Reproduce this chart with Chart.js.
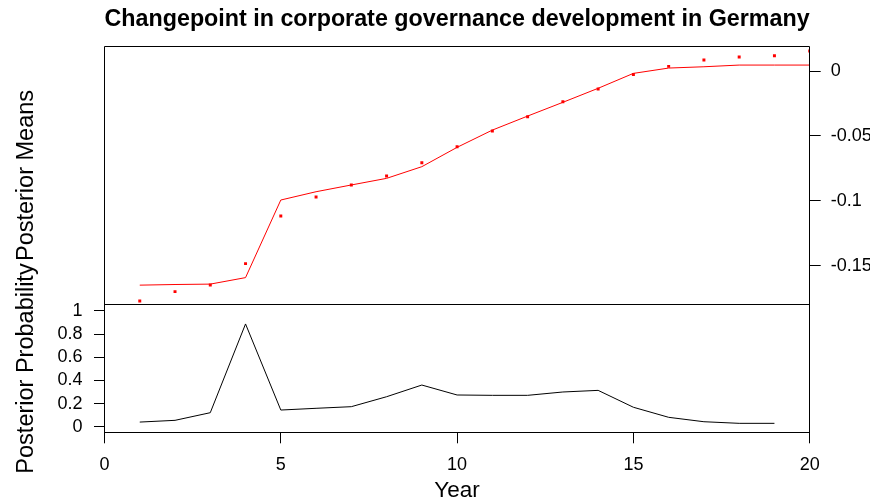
<!DOCTYPE html>
<html>
<head>
<meta charset="utf-8">
<script src="https://cdn.jsdelivr.net/npm/chart.js@4.4.0/dist/chart.umd.min.js"></script>
<style>
html,body{margin:0;padding:0;background:#ffffff;}
canvas{display:block;}
</style>
</head>
<body>
<canvas id="c" width="870" height="504"></canvas>
<script>
// ---- data ----
const years = [1,2,3,4,5,6,7,8,9,10,11,12,13,14,15,16,17,18,19,20];
const observed = [-0.1772,-0.1700,-0.1649,-0.1484,-0.1117,-0.0971,-0.0878,-0.0809,-0.0706,-0.0583,
                  -0.0462,-0.0352,-0.0236,-0.0139,-0.0026,0.0036,0.0085,0.0108,0.0118,0.0154];
const posteriorMeans = [-0.1650,-0.1645,-0.1642,-0.1592,-0.0994,-0.0930,-0.0878,-0.0827,-0.0737,-0.0588,
                        -0.0455,-0.0347,-0.0241,-0.0133,-0.0018,0.0023,0.0033,0.0046,0.0046,0.0046];
const probYears = [1,2,3,4,5,6,7,8,9,10,11,12,13,14,15,16,17,18,19];
const posteriorProb = [0.040,0.055,0.121,0.888,0.144,0.159,0.173,0.259,0.360,0.274,
                       0.271,0.271,0.300,0.314,0.168,0.081,0.043,0.029,0.029];
const xTicks = [0,5,10,15,20];
const xTickLabels = ['0','5','10','15','20'];
const topTicks = [-0.15,-0.1,-0.05,0];
const topTickLabels = ['-0.15','-0.1','-0.05','0'];
const botTicks = [0,0.2,0.4,0.6,0.8,1];
const botTickLabels = ['0','0.2','0.4','0.6','0.8','1'];
const titleText = 'Changepoint in corporate governance development in Germany';
const xTitle = 'Year';
const topPanelLabel = 'Posterior Means';
const botPanelLabel = 'Posterior Probability';

// ---- layout constants ----
const FONT = "'Liberation Sans', Arial, Helvetica, sans-serif";
const TOP_RANGE = {min: -0.2784, max: 0.0193};
const BOT_RANGE = {min: -0.0484, max: 3.290};
const BOT_PANEL_TOP = 1.054;   // value on bottom scale where the bottom panel begins

const pts = (xs, ys) => xs.map((x, i) => ({x: x, y: ys[i]}));
const fixTicks = (vals) => (scale) => { scale.ticks = vals.map(v => ({value: v})); };

const panelPlugin = {
  id: 'panels',
  afterDraw(chart) {
    const {ctx, chartArea: a} = chart;
    const L = Math.floor(a.left) + 0.5, R = Math.floor(a.right) + 0.5;
    const T = Math.floor(a.top) + 0.5, B = Math.floor(a.bottom) + 0.5;
    const S = Math.floor(chart.scales.yBot.getPixelForValue(BOT_PANEL_TOP)) + 0.5;
    ctx.save();
    ctx.strokeStyle = '#000000';
    ctx.lineWidth = 1;
    ctx.beginPath();
    ctx.rect(L, T, R - L, B - T);
    ctx.moveTo(L, S); ctx.lineTo(R, S);
    ctx.stroke();
    // panel labels (each centred on its own panel)
    ctx.fillStyle = '#000000';
    ctx.font = '23.5px ' + FONT;
    ctx.textAlign = 'center';
    ctx.textBaseline = 'alphabetic';
    const drawV = (txt, cy) => {
      ctx.save();
      ctx.translate(32.5, cy);
      ctx.rotate(-Math.PI / 2);
      ctx.fillText(txt, 0, 0);
      ctx.restore();
    };
    drawV(topPanelLabel, (T + S) / 2);
    drawV(botPanelLabel, (S + B) / 2);
    ctx.restore();
  }
};

new Chart(document.getElementById('c'), {
  type: 'line',
  data: {
    datasets: [
      {
        label: 'Observed', data: pts(years, observed), yAxisID: 'yTop',
        showLine: false, pointStyle: 'rect', pointRadius: 2.1, pointBorderWidth: 0,
        pointBackgroundColor: '#ff0000', borderColor: '#ff0000'
      },
      {
        label: 'Posterior Means', data: pts(years, posteriorMeans), yAxisID: 'yTop',
        borderColor: '#ff0000', borderWidth: 1, pointRadius: 0, tension: 0, fill: false
      },
      {
        label: 'Posterior Probability', data: pts(probYears, posteriorProb), yAxisID: 'yBot',
        borderColor: '#000000', borderWidth: 1, pointRadius: 0, tension: 0, fill: false
      }
    ]
  },
  options: {
    responsive: false,
    animation: false,
    devicePixelRatio: 1,
    layout: {padding: 0},
    plugins: {
      legend: {display: false},
      tooltip: {enabled: false},
      title: {
        display: true, text: titleText, fullSize: false, color: '#000000',
        font: {family: FONT, size: 24, weight: 'bold', lineHeight: 1.2},
        padding: {top: 5, bottom: 12.2}
      }
    },
    scales: {
      x: {
        type: 'linear', position: 'bottom', min: 0, max: 20,
        afterBuildTicks: fixTicks(xTicks),
        afterFit: (s) => { s.height = 71.7; },
        border: {display: false},
        grid: {drawOnChartArea: false, drawTicks: true, tickLength: 11, color: '#000000'},
        ticks: {
          color: '#000000', font: {family: FONT, size: 18}, padding: 11,
          maxRotation: 0, autoSkip: false,
          callback: (v, i) => xTickLabels[i]
        },
        title: {
          display: true, text: xTitle, color: '#000000',
          font: {family: FONT, size: 22.5}, padding: {top: 0, bottom: 0}
        }
      },
      yBot: {
        type: 'linear', position: 'left', min: BOT_RANGE.min, max: BOT_RANGE.max,
        afterBuildTicks: fixTicks(botTicks),
        afterFit: (s) => { s.width = 104.5; },
        border: {display: false},
        grid: {drawOnChartArea: false, drawTicks: true, tickLength: 10.5, color: '#000000'},
        ticks: {
          color: '#000000', font: {family: FONT, size: 18}, padding: 11.5, autoSkip: false,
          callback: (v, i) => botTickLabels[i]
        }
      },
      yTop: {
        type: 'linear', position: 'right', min: TOP_RANGE.min, max: TOP_RANGE.max,
        afterBuildTicks: fixTicks(topTicks),
        afterFit: (s) => { s.width = 60.3; },
        border: {display: false},
        grid: {drawOnChartArea: false, drawTicks: true, tickLength: 11, color: '#000000'},
        ticks: {
          color: '#000000', font: {family: FONT, size: 18}, padding: 10, autoSkip: false,
          callback: (v, i) => topTickLabels[i]
        }
      }
    }
  },
  plugins: [panelPlugin]
});
</script>
</body>
</html>
